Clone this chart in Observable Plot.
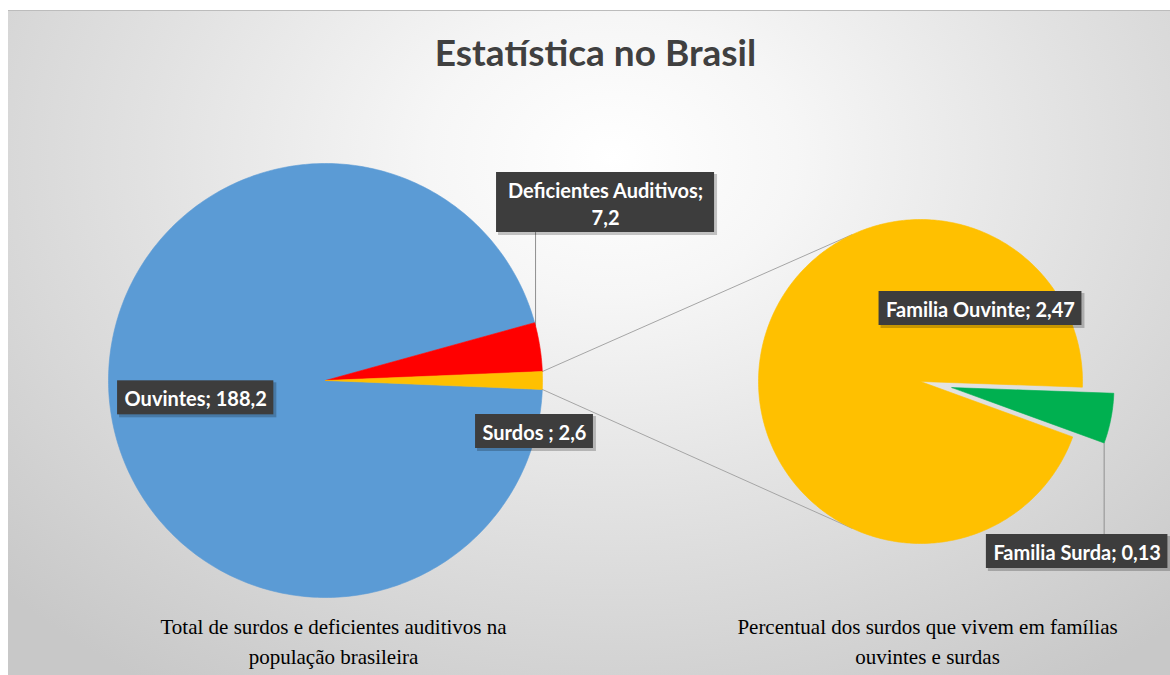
<!DOCTYPE html>
<html><head><meta charset="utf-8">
<script src="https://cdn.jsdelivr.net/npm/d3@7"></script>
<script src="https://cdn.jsdelivr.net/npm/@observablehq/plot@0.6"></script>
<style>
html,body{margin:0;padding:0;background:#fff;}
#wrap{position:relative;width:1170px;height:675px;overflow:hidden;}
#bg{position:absolute;left:8px;top:10px;width:1162px;height:665px;border-top:1px solid #bcbcbc;
 background:radial-gradient(ellipse 72% 95% at 52% 22%, #ffffff 0%, #f6f6f6 22%, #e2e2e2 55%, #c8c8c8 100%);}
#chart{position:absolute;left:0;top:0;}
</style></head><body><div id="wrap"><div id="bg"></div><div id="chart"></div></div>
<script>
// ---- data ----
const mainCategories = ["Ouvintes", "Deficientes Auditivos", "Surdos "];
const mainValues = [188.2, 7.2, 2.6];
const mainColors = ["#5B9BD5", "#FF0000", "#FFC000"];
const subCategories = ["Familia Ouvinte", "Familia Surda"];
const subValues = [2.47, 0.13];
const subColors = ["#FFC000", "#00B050"];
const titleText = "Estatística no Brasil";
const captionLeft = ["Total de surdos e deficientes auditivos na", "população brasileira"];
const captionRight = ["Percentual dos surdos que vivem em famílias", "ouvintes e surdas"];

// ---- layout ----
const W = 1170, H = 675;
const L = {cx: 325, cy: 380, r: 217};
const R = {cx: 920, cy: 381, r: 162};
const subStart = 2;      // degrees, clockwise from 3 o'clock
const explode = 32;      // px for Familia Surda
const rad = d => d * Math.PI / 180;
const fmt = v => String(v).replace(".", ",");

function arcPoly(cx, cy, r, a0, a1, key, color) {
  const pts = [{x: cx, y: cy, key, color}];
  const n = Math.max(2, Math.ceil(Math.abs(a1 - a0)));
  for (let i = 0; i <= n; i++) {
    const a = rad(a0 + (a1 - a0) * i / n);
    pts.push({x: cx + r * Math.cos(a), y: cy + r * Math.sin(a), key, color});
  }
  pts.push({x: cx, y: cy, key, color});
  return pts;
}

const totalMain = d3.sum(mainValues);
const span = mainValues.map(v => v / totalMain * 360);
const yellowA0 = -span[2] / 2, yellowA1 = span[2] / 2;
const redA0 = yellowA0 - span[1], redA1 = yellowA0;
const blueA0 = yellowA1, blueA1 = blueA0 + span[0];
const mainAngles = [[blueA0, blueA1], [redA0, redA1], [yellowA0, yellowA1]];

const totalSub = d3.sum(subValues);
const sspan = subValues.map(v => v / totalSub * 360);
const greenA0 = subStart, greenA1 = subStart + sspan[1];
const ylwA0 = greenA1, ylwA1 = greenA1 + sspan[0];
const gMid = rad((greenA0 + greenA1) / 2);
const gcx = R.cx + explode * Math.cos(gMid), gcy = R.cy + explode * Math.sin(gMid);

const slices = [];
mainCategories.forEach((c, i) => slices.push(...arcPoly(L.cx, L.cy, L.r, mainAngles[i][0], mainAngles[i][1], "m" + i, mainColors[i])));
slices.push(...arcPoly(R.cx, R.cy, R.r, ylwA0, ylwA1, "s0", subColors[0]));
slices.push(...arcPoly(gcx, gcy, R.r, greenA0, greenA1, "s1", subColors[1]));

const pt = (c, r, a) => ({x: c.cx + r * Math.cos(rad(a)), y: c.cy + r * Math.sin(rad(a))});
const c1a = pt(L, L.r, yellowA0), c1b = pt(R, R.r, -115);
const c2a = pt(L, L.r, yellowA1), c2b = pt(R, R.r, 115);
const connectors = [
  {...c1a, k: 1}, {...c1b, k: 1},
  {...c2a, k: 2}, {...c2b, k: 2}
];

// labels
const ctx = document.createElement("canvas").getContext("2d");
const LF = "Lato", LS = 20;
ctx.font = `bold ${LS}px ${LF}`;
const mw = s => ctx.measureText(s).width;

const redLeader = pt(L, L.r, redA0 + 0.07 * (redA1 - redA0));
const greenOuter = {x: gcx + R.r * Math.cos(rad(greenA1)), y: gcy + R.r * Math.sin(rad(greenA1))};
const blueMid = (blueA0 + blueA1) / 2;
const ouvPos = pt(L, 0.6 * L.r, blueMid + 2);

const labels = [
  {lines: [`${mainCategories[0]}; ${fmt(mainValues[0])}`], x: ouvPos.x, y: ouvPos.y + 7},
  {lines: [`${mainCategories[1]};`, fmt(mainValues[1])], x: redLeader.x + 70, y: 202},
  {lines: [`${mainCategories[2]}; ${fmt(mainValues[2])}`], x: pt(L, L.r, 0).x - 8, y: 431},
  {lines: [`${subCategories[0]}; ${fmt(subValues[0])}`], x: R.cx + 60, y: 308},
  {lines: [`${subCategories[1]}; ${fmt(subValues[1])}`], x: greenOuter.x - 27, y: 551}
];
const lineH = 27;
labels.forEach(l => {
  l.text = l.lines.join("\n");
  const w = d3.max(l.lines, mw) + (l.lines.length > 1 ? 22 : 14);
  const h = l.lines.length > 1 ? 60 : 34;
  l.x1 = l.x - w / 2; l.x2 = l.x + w / 2; l.y1 = l.y - h / 2; l.y2 = l.y + h / 2;
});

const leaders = [
  {x: redLeader.x, y: redLeader.y, k: 1}, {x: redLeader.x, y: labels[1].y2, k: 1},
  {x: greenOuter.x, y: greenOuter.y, k: 2}, {x: greenOuter.x, y: labels[4].y1, k: 2}
];

const captions = [
  {t: captionLeft[0], x: L.cx + 8, y: 627}, {t: captionLeft[1], x: L.cx + 8, y: 657},
  {t: captionRight[0], x: R.cx + 7, y: 627}, {t: captionRight[1], x: R.cx + 7, y: 657}
];

const chart = Plot.plot({
  width: W, height: H,
  marginTop: 0, marginRight: 0, marginBottom: 0, marginLeft: 0,
  x: {domain: [0, W], range: [0, W], axis: null},
  y: {domain: [0, H], range: [0, H], axis: null},
  color: {type: "identity"},
  style: {background: "transparent", overflow: "visible"},
  marks: [
    Plot.line(connectors, {x: "x", y: "y", z: "k", stroke: "#a5a5a5", strokeWidth: 1}),
    Plot.line(leaders, {x: "x", y: "y", z: "k", stroke: "#8f8f8f", strokeWidth: 1}),
    Plot.line(slices, {x: "x", y: "y", z: "key", fill: "color", stroke: "color", strokeWidth: 0.6, curve: "linear"}),
    Plot.rect(labels, {x1: d => d.x1 + 2, x2: d => d.x2 + 3, y1: d => d.y1 + 2, y2: d => d.y2 + 3, fill: "#000", fillOpacity: 0.22}),
    Plot.rect(labels, {x1: "x1", x2: "x2", y1: "y1", y2: "y2", fill: "#3d3d3d"}),
    Plot.text(labels, {x: "x", y: "y", text: "text", fill: "#ffffff", fontSize: LS, fontWeight: "bold", fontFamily: LF, lineHeight: lineH / LS}),
    Plot.text([titleText], {x: () => 595, y: () => 54, text: d => d, fill: "#404040", fontSize: 37, fontWeight: "bold", fontFamily: LF}),
    Plot.text(captions, {x: "x", y: "y", text: "t", fill: "#000", fontSize: 21, fontFamily: "Liberation Serif"})
  ]
});
document.getElementById("chart").appendChild(chart);
</script>
</body></html>
